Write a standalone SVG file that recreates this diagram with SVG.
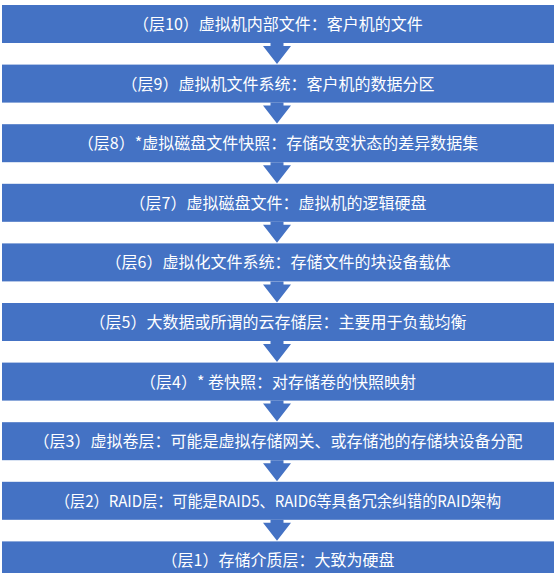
<svg xmlns="http://www.w3.org/2000/svg" width="554" height="573" viewBox="0 0 554 573">
<style>
.bar{fill:#4472C4}
.lbl{fill:#ffffff;font-family:"Noto Sans CJK SC","Noto Sans",sans-serif;font-size:16px;text-anchor:middle}
.arr{fill:#4472C4}
</style>
<defs>
<path id="arrow" d="M270.5,0 H283.5 V3 H291 L277,21 L263,3 H270.5 Z"/>
</defs>
<rect width="554" height="573" fill="#ffffff"/>
<g id="connectors">
<use href="#arrow" class="arr" y="43"/>
<use href="#arrow" class="arr" y="102.6"/>
<use href="#arrow" class="arr" y="162.2"/>
<use href="#arrow" class="arr" y="221.8"/>
<use href="#arrow" class="arr" y="281.4"/>
<use href="#arrow" class="arr" y="341"/>
<use href="#arrow" class="arr" y="400.6"/>
<use href="#arrow" class="arr" y="460.2"/>
<use href="#arrow" class="arr" y="519.8"/>
</g>
<g id="layer10"><rect class="bar" x="2" y="5" width="552" height="38"/><text class="lbl" x="278" y="30">（层10）虚拟机内部文件：客户机的文件</text></g>
<g id="layer9"><rect class="bar" x="2" y="64.6" width="552" height="38"/><text class="lbl" x="278" y="89.6">（层9）虚拟机文件系统：客户机的数据分区</text></g>
<g id="layer8"><rect class="bar" x="2" y="124.2" width="552" height="38"/><text class="lbl" x="278" y="149.2">（层8）*虚拟磁盘文件快照：存储改变状态的差异数据集</text></g>
<g id="layer7"><rect class="bar" x="2" y="183.8" width="552" height="38"/><text class="lbl" x="278" y="208.8">（层7）虚拟磁盘文件：虚拟机的逻辑硬盘</text></g>
<g id="layer6"><rect class="bar" x="2" y="243.4" width="552" height="38"/><text class="lbl" x="278" y="268.4">（层6）虚拟化文件系统：存储文件的块设备载体</text></g>
<g id="layer5"><rect class="bar" x="2" y="303" width="552" height="38"/><text class="lbl" x="278" y="328">（层5）大数据或所谓的云存储层：主要用于负载均衡</text></g>
<g id="layer4"><rect class="bar" x="2" y="362.6" width="552" height="38"/><text class="lbl" x="278" y="387.6">（层4）* 卷快照：对存储卷的快照映射</text></g>
<g id="layer3"><rect class="bar" x="2" y="422.2" width="552" height="38"/><text class="lbl" x="278" y="447.2">（层3）虚拟卷层：可能是虚拟存储网关、或存储池的存储块设备分配</text></g>
<g id="layer2"><rect class="bar" x="2" y="481.8" width="552" height="38"/><text class="lbl" x="278" y="506.8" textLength="446" lengthAdjust="spacingAndGlyphs">（层2）RAID层：可能是RAID5、RAID6等具备冗余纠错的RAID架构</text></g>
<g id="layer1"><rect class="bar" x="2" y="541.4" width="552" height="38"/><text class="lbl" x="278" y="566.4">（层1）存储介质层：大致为硬盘</text></g>
</svg>
